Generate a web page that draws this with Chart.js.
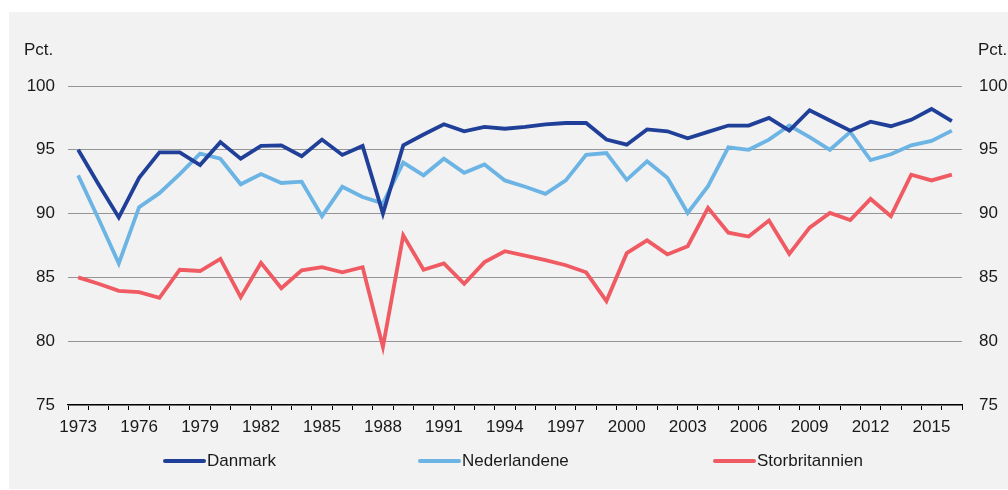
<!DOCTYPE html>
<html>
<head>
<meta charset="utf-8">
<script src="https://cdn.jsdelivr.net/npm/chart.js@4/dist/chart.umd.min.js"></script>
<style>
  html, body { margin: 0; padding: 0; background: #ffffff; }
  #wrap { position: relative; width: 1008px; height: 490px; overflow: hidden; }
  #bg { position: absolute; left: 9px; top: 12px; width: 999px; height: 477px; background: #f2f2f2; }
  #c { position: absolute; left: 0; top: 0; }
</style>
</head>
<body>
<div id="wrap">
  <div id="bg"></div>
  <canvas id="c" width="1008" height="490"></canvas>
</div>
<script>
const years = [];
for (let y = 1973; y <= 2016; y++) years.push(String(y));

const seriesNames = ["Danmark", "Nederlandene", "Storbritannien"];
const seriesColors = ["#1f3f98", "#6cb4e4", "#ef5a63"];

const danmark = [
  95.0, 92.3, 89.7, 92.8, 94.8, 94.8, 93.8, 95.6, 94.3, 95.3,
  95.35, 94.5, 95.8, 94.6, 95.3, 90.0, 95.35, 96.2, 97.0, 96.45,
  96.8, 96.65, 96.8, 97.0, 97.1, 97.1, 95.8, 95.4, 96.6, 96.45,
  95.9, 96.4, 96.9, 96.9, 97.5, 96.5, 98.1, 97.3, 96.5, 97.2,
  96.85, 97.35, 98.2, 97.25
];
const nederlandene = [
  93.0, 89.6, 86.1, 90.5, 91.6, 93.1, 94.7, 94.3, 92.3, 93.1,
  92.4, 92.5, 89.8, 92.1, 91.3, 90.8, 94.0, 93.0, 94.3, 93.2,
  93.85, 92.6, 92.1, 91.55, 92.6, 94.6, 94.75, 92.65, 94.1, 92.8,
  90.05, 92.15, 95.2, 95.0, 95.8, 96.9, 96.0, 95.0, 96.4, 94.2,
  94.65, 95.35, 95.7, 96.5
];
const storbritannien = [
  85.0, 84.5, 83.95, 83.85, 83.4, 85.6, 85.5, 86.45, 83.45, 86.15,
  84.15, 85.55, 85.8, 85.4, 85.8, 79.55, 88.3, 85.6, 86.1, 84.5,
  86.2, 87.05, 86.7, 86.35, 85.95, 85.4, 83.15, 86.9, 87.9, 86.8,
  87.45, 90.45, 88.5, 88.2, 89.45, 86.85, 88.9, 90.05, 89.5, 91.15,
  89.8, 93.05, 92.6, 93.05
];

const yMin = 75, yMax = 100, yStep = 5;
const unitLabel = "Pct.";
const FONT = "'Liberation Sans', Arial, sans-serif";
const TEXT = "#1a1a1a";

const overlay = {
  id: 'overlay',
  afterDraw(chart) {
    const ctx = chart.ctx;
    const a = chart.chartArea;
    ctx.save();
    ctx.fillStyle = TEXT;
    ctx.font = "17px " + FONT;
    ctx.textBaseline = "middle";
    ctx.textAlign = "left";
    ctx.fillText(unitLabel, 24, 50);
    ctx.fillText(unitLabel, a.right + 16, 50);
    // legend
    const items = [
      {x: 164}, {x: 419}, {x: 714}
    ];
    const ly = 461;
    items.forEach((it, i) => {
      ctx.strokeStyle = seriesColors[i];
      ctx.lineWidth = 4;
      ctx.lineCap = "round";
      ctx.beginPath();
      ctx.moveTo(it.x + 1, ly);
      ctx.lineTo(it.x + 40, ly);
      ctx.stroke();
      ctx.fillStyle = TEXT;
      ctx.fillText(seriesNames[i], it.x + 43, ly);
    });
    ctx.restore();
  }
};

new Chart(document.getElementById('c'), {
  type: 'line',
  data: {
    labels: years,
    datasets: [
      { label: seriesNames[0], data: danmark, borderColor: seriesColors[0] },
      { label: seriesNames[1], data: nederlandene, borderColor: seriesColors[1] },
      { label: seriesNames[2], data: storbritannien, borderColor: seriesColors[2] }
    ].map(d => Object.assign(d, {
      borderWidth: 3.8, pointRadius: 0, pointHoverRadius: 0, tension: 0,
      fill: false, borderJoinStyle: 'miter', yAxisID: 'y'
    }))
  },
  options: {
    responsive: false,
    animation: false,
    devicePixelRatio: 1,
    layout: { padding: { top: 86, left: 0, right: 0, bottom: 45 } },
    plugins: { legend: { display: false }, tooltip: { enabled: false }, title: { display: false } },
    scales: {
      x: {
        type: 'category',
        offset: true,
        grid: {
          display: true, offset: true, drawOnChartArea: false, drawTicks: true,
          tickLength: 5, color: '#000000', lineWidth: 1
        },
        border: { display: true, color: '#000000', width: 1.2 },
        ticks: {
          autoSkip: false, maxRotation: 0, minRotation: 0, padding: 7,
          color: TEXT, font: { family: FONT, size: 17 },
          callback: function(v, i) { return (i % 3 === 0) ? this.getLabelForValue(v) : ''; }
        },
        afterFit: s => { s.height = 40; }
      },
      y: {
        position: 'left', min: yMin, max: yMax,
        grid: { color: '#959595', lineWidth: 1, drawTicks: false },
        border: { display: false },
        ticks: { stepSize: yStep, padding: 13, color: TEXT, font: { family: FONT, size: 17 } },
        afterFit: s => { s.width = 68; }
      },
      y2: {
        position: 'right', min: yMin, max: yMax,
        grid: { display: false, drawTicks: false },
        border: { display: false },
        ticks: { stepSize: yStep, padding: 17, color: TEXT, font: { family: FONT, size: 17 } },
        afterFit: s => { s.width = 46; }
      }
    }
  },
  plugins: [overlay]
});
</script>
</body>
</html>
